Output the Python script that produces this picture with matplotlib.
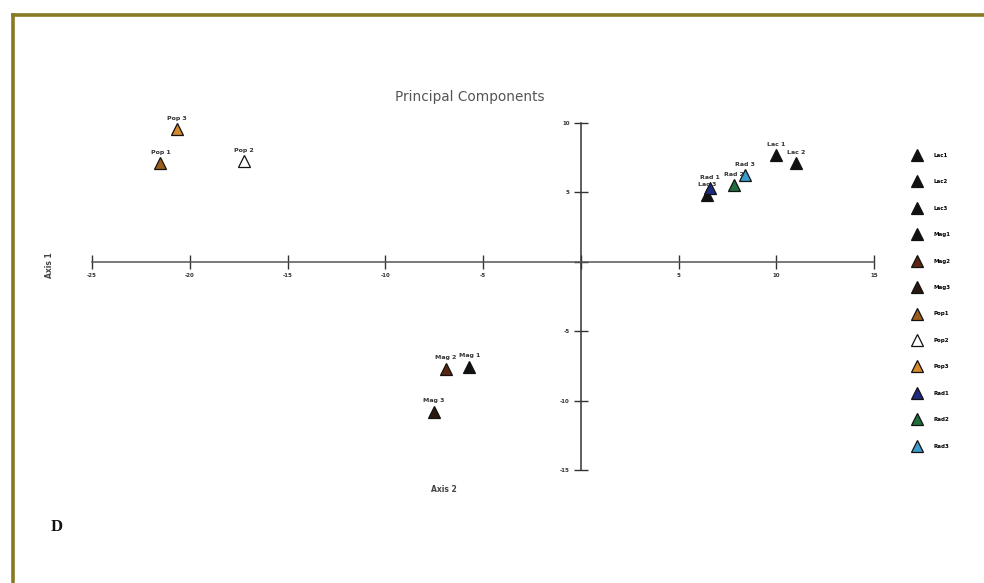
import matplotlib.pyplot as plt
from matplotlib.lines import Line2D

# PCA scores per sample (axis 2 on x, axis 1 on y)
samples = ['Lac1', 'Lac2', 'Lac3', 'Mag1', 'Mag2', 'Mag3',
           'Pop1', 'Pop2', 'Pop3', 'Rad1', 'Rad2', 'Rad3']
point_labels = ['Lac 1', 'Lac 2', 'Lac 3', 'Mag 1', 'Mag 2', 'Mag 3',
                'Pop 1', 'Pop 2', 'Pop 3', 'Rad 1', 'Rad 2', 'Rad 3']
axis2 = [10.0, 11.0, 6.46, -5.7, -6.9, -7.5, -21.5, -17.25, -20.66, 6.6, 7.84, 8.4]
axis1 = [7.7, 7.1, 4.8, -7.55, -7.7, -10.8, 7.1, 7.27, 9.57, 5.3, 5.54, 6.26]
colors = ['#111111', '#111111', '#111111', '#111111', '#5a2612', '#2a1810',
          '#9a5e1c', '#ffffff', '#d48a2a', '#1c2a80', '#1f6e3c', '#3a9ccc']

xticks = [-25, -20, -15, -10, -5, 0, 5, 10, 15]
yticks = [-15, -10, -5, 0, 5, 10]

fig = plt.figure(figsize=(9.84, 5.83), dpi=100)

# olive frame along the top and left edges
fig.add_artist(Line2D([12.5 / 984, 1.0], [1 - 14.5 / 583] * 2, color='#877a22', lw=2.6,
                      transform=fig.transFigure))
fig.add_artist(Line2D([12.5 / 984] * 2, [0.0, 1 - 14.5 / 583], color='#877a22', lw=2.6,
                      transform=fig.transFigure))

ax = fig.add_axes([92 / 984, 1 - 470 / 583, (874 - 92) / 984, (470 - 123) / 583])
ax.set_xlim(-25, 15)
ax.set_ylim(-15, 10)

for side in ['top', 'right']:
    ax.spines[side].set_visible(False)
ax.spines['left'].set_position(('data', 0))
ax.spines['bottom'].set_position(('data', 0))
ax.spines['left'].set_color('#333333')
ax.spines['bottom'].set_color('#555555')
ax.spines['left'].set_linewidth(1.1)
ax.spines['bottom'].set_linewidth(1.1)

ax.set_xticks(xticks)
ax.set_yticks(yticks)
ax.set_xticklabels([str(t) if t != 0 else '' for t in xticks], fontweight='bold')
ax.set_yticklabels([str(t) if t != 0 else '' for t in yticks], fontweight='bold')
ax.tick_params(direction='inout', length=10, width=1.0, colors='#333333',
               labelsize=4, pad=3)

for i in range(len(samples)):
    ax.plot(axis2[i], axis1[i], marker='^', ms=9, color=colors[i],
            mec='#111111', mew=0.9, ls='none', label=samples[i], clip_on=False)
    ax.annotate(point_labels[i], (axis2[i], axis1[i]), xytext=(0, 6),
                textcoords='offset points', ha='center', va='bottom',
                fontsize=4.5, fontweight='bold', color='#333333')

fig.text(470 / 984, 1 - 97 / 583, 'Principal Components', ha='center', va='center',
         fontsize=9.8, color='#555555')
fig.text(444 / 984, 1 - 490 / 583, 'Axis 2', ha='center', va='center',
         fontsize=5.5, fontweight='bold', color='#444444')
fig.text(50 / 984, 1 - 265 / 583, 'Axis 1', ha='center', va='center', rotation=90,
         fontsize=5.5, fontweight='bold', color='#444444')
fig.text(57 / 984, 1 - 527 / 583, 'D', ha='center', va='center', fontsize=12,
         fontweight='bold', family='Liberation Serif', color='#111111')

fig.legend(loc='upper left', bbox_to_anchor=(909 / 984, 1 - 150 / 583),
           frameon=False, borderpad=0, handlelength=2,
           handletextpad=2.0, labelspacing=3.86, markerscale=1.0,
           prop={'size': 4, 'weight': 'bold'})

fig.savefig('out.png', dpi=100)
